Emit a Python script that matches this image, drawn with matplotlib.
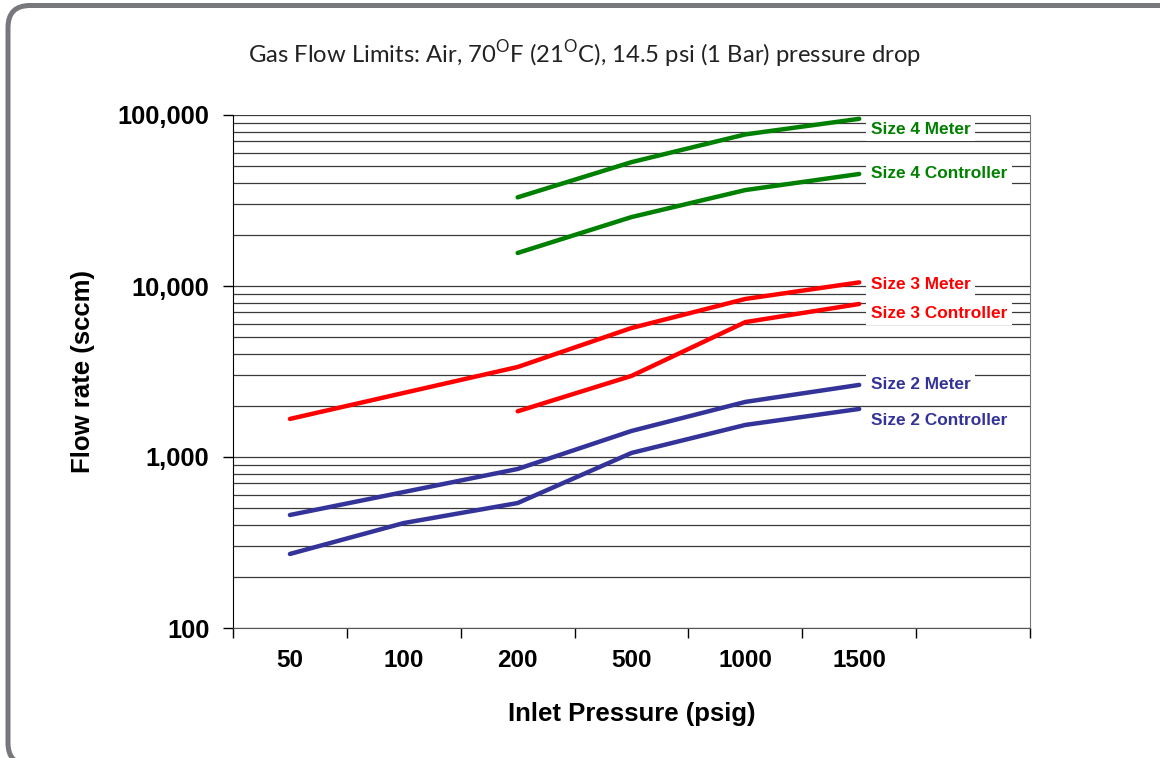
import numpy as np
import matplotlib
matplotlib.use("Agg")
import matplotlib.pyplot as plt
from matplotlib.patches import FancyBboxPatch
from matplotlib.ticker import FixedLocator, FuncFormatter, NullFormatter

plt.rcParams['font.family'] = ['Liberation Sans', 'DejaVu Sans']
plt.rcParams['mathtext.fontset'] = 'custom'
plt.rcParams['mathtext.rm'] = 'Lato'

# categories (last slot is empty in the original chart)
pressures = ["50", "100", "200", "500", "1000", "1500", ""]

nan = np.nan
size4_meter = [nan, nan, 33000, 53000, 77000, 95000]
size4_ctrl = [nan, nan, 15600, 25300, 36400, 45200]
size3_meter = [1670, 2370, 3360, 5680, 8400, 10500]
size3_ctrl = [nan, nan, 1850, 2980, 6150, 7850]
size2_meter = [458, 624, 851, 1420, 2100, 2640]
size2_ctrl = [271, 411, 538, 1056, 1540, 1910]

series = [
    ("Size 4 Meter", size4_meter, "#008000", 82800),
    ("Size 4 Controller", size4_ctrl, "#008000", 45200),
    ("Size 3 Meter", size3_meter, "#ff0000", 10150),
    ("Size 3 Controller", size3_ctrl, "#ff0000", 6950),
    ("Size 2 Meter", size2_meter, "#333399", 2670),
    ("Size 2 Controller", size2_ctrl, "#333399", 1645),
]

fig = plt.figure(figsize=(11.6, 7.58), dpi=100)
ax = fig.add_axes([233/1160, 1-628/758, (1030-233)/1160, (628-115)/758])

# rounded gray frame around the whole picture (runs off right and bottom)
frame = FancyBboxPatch((0.08, -0.07), 11.90, 7.595,
                       boxstyle="round,pad=0,rounding_size=0.22",
                       transform=fig.dpi_scale_trans, fill=False,
                       edgecolor="#77787b", linewidth=3.6, clip_on=False)
fig.patches.append(frame)

x = np.arange(len(pressures) - 1)
for name, vals, col, ylab in series:
    v = np.array(vals, dtype=float)
    m = ~np.isnan(v)
    ax.plot(x[m], v[m], color=col, lw=3.2, solid_capstyle='round', zorder=3)
    ax.text(5.10, ylab, name, color=col, fontsize=12.4, fontweight='bold',
            va='center', ha='left', zorder=4,
            bbox=dict(facecolor='white', edgecolor='none', pad=3.5))

ax.set_yscale('log')
ax.set_ylim(100, 100000)
ax.set_xlim(-0.5, 6.5)

# y axis
ax.yaxis.set_major_locator(FixedLocator([100, 1000, 10000, 100000]))
ax.yaxis.set_major_formatter(FuncFormatter(lambda v, p: f"{int(v):,}"))
minor = [m * 10**e for e in range(2, 5) for m in range(2, 10)]
ax.yaxis.set_minor_locator(FixedLocator(minor))
ax.yaxis.set_minor_formatter(NullFormatter())
ax.tick_params(axis='y', which='major', direction='out', length=7, width=1,
               pad=10, labelsize=18.3)
ax.tick_params(axis='y', which='minor', length=0)
for t in ax.get_yticklabels():
    t.set_fontweight('bold')

# x axis: ticks on category boundaries, labels in the middle
ax.xaxis.set_major_locator(FixedLocator(np.arange(-0.5, 7, 1.0)))
ax.xaxis.set_major_formatter(NullFormatter())
ax.xaxis.set_minor_locator(FixedLocator(np.arange(len(pressures))))
ax.xaxis.set_minor_formatter(FuncFormatter(lambda v, p: pressures[int(round(v))]))
ax.tick_params(axis='x', which='major', direction='out', length=7, width=1)
ax.tick_params(axis='x', which='minor', length=0, pad=15, labelsize=17.5)
for t in ax.xaxis.get_minorticklabels():
    t.set_fontweight('bold')

ax.grid(True, which='both', axis='y', color='#3a3a3a', lw=0.9)
ax.set_axisbelow(True)

ax.spines['top'].set_visible(False)
ax.spines['right'].set_color('#777777')
ax.spines['left'].set_color('black')
ax.spines['bottom'].set_color('#555555')

ax.set_xlabel("Inlet Pressure (psig)", fontsize=18.5, fontweight='bold', labelpad=22)
ax.set_ylabel("Flow rate (sccm)", fontsize=18.5, fontweight='bold', labelpad=16)

fig.text(585/1160, 1-54/758,
         r"Gas Flow Limits: Air, 70$^{\mathrm{O}}$F (21$^{\mathrm{O}}$C), 14.5 psi (1 Bar) pressure drop",
         family='Lato', fontsize=17.2, ha='center', va='center', color='#222222')

fig.savefig("out.png", dpi=100)
